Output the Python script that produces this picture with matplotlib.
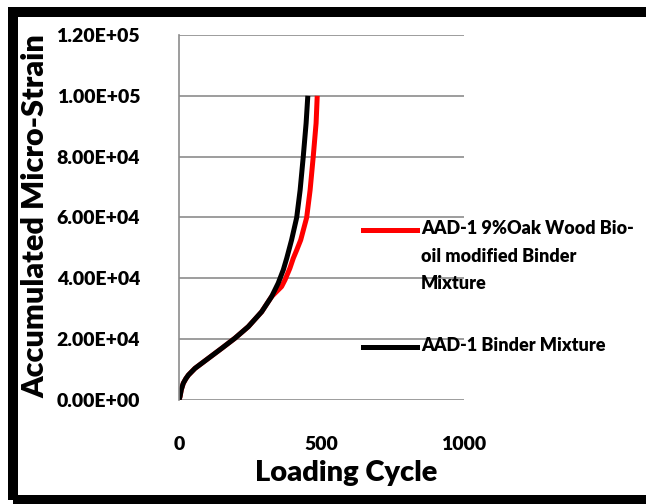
import matplotlib.pyplot as plt
from matplotlib.lines import Line2D
from matplotlib.patches import Rectangle

plt.rcParams['font.family'] = ['Lato', 'DejaVu Sans']
plt.rcParams['font.weight'] = 'heavy'

# accumulated strain vs loading cycle
cycles_bio = [0, 3.5, 8, 15, 24, 33, 56, 103, 150, 196, 243, 290, 325, 360, 372, 389, 401,
              413, 427, 448, 460, 471, 481, 485]
strain_bio = [0, 1.1e3, 3.4e3, 5.5e3, 7.0e3, 8.2e3, 10.4e3, 13.7e3, 17e3, 20.3e3, 24.1e3,
              29e3, 34e3, 37.3e3, 39.5e3, 43.3e3, 46.6e3, 49.3e3, 52.6e3, 60e3, 69e3, 80e3,
              91e3, 1.0e5]
cycles_base = [0, 3.5, 8, 15, 24, 33, 56, 103, 150, 196, 243, 290, 325, 348, 366, 378, 395,
               413, 425, 436, 446, 452]
strain_base = [0, 1.1e3, 3.4e3, 5.5e3, 7.0e3, 8.2e3, 10.4e3, 13.7e3, 17e3, 20.3e3, 24.1e3,
               29e3, 34e3, 38.4e3, 42.8e3, 46.6e3, 52.6e3, 60e3, 69e3, 80e3, 91e3, 1.0e5]

label_bio = "AAD-1 9%Oak Wood Bio-\noil modified Binder\nMixture"
label_base = "AAD-1 Binder Mixture"

y_ticks = [0, 2e4, 4e4, 6e4, 8e4, 1e5, 1.2e5]
y_tick_labels = ["0.00E+00", "2.00E+04", "4.00E+04", "6.00E+04",
                 "8.00E+04", "1.00E+05", "1.20E+05"]
x_ticks = [0, 500, 1000]

fig = plt.figure(figsize=(6.46, 5.04), dpi=100)
ax = fig.add_axes([179 / 646, 104 / 504, 285 / 646, 365 / 504])

ax.plot(cycles_bio, strain_bio, color='#ff0000', lw=3.6, solid_capstyle='butt',
        solid_joinstyle='round')
ax.plot(cycles_base, strain_base, color='black', lw=3.6, solid_capstyle='butt',
        solid_joinstyle='round')

ax.set_xlim(0, 1000)
ax.set_ylim(0, 1.2e5)
ax.set_yticks(y_ticks)
ax.set_yticklabels(y_tick_labels)
ax.set_xticks(x_ticks)
ax.grid(axis='y', color='#8c8c8c', lw=1.2)
ax.set_axisbelow(True)
for side in ['top', 'right', 'bottom']:
    ax.spines[side].set_visible(False)
ax.spines['left'].set_color('#8c8c8c')
ax.spines['left'].set_linewidth(1.2)
ax.tick_params(axis='both', length=0, labelsize=14)
ax.tick_params(axis='y', pad=28)
ax.tick_params(axis='x', pad=26)

ax.set_ylabel("Accumulated Micro-Strain", fontsize=22, fontweight='heavy')
ax.yaxis.set_label_coords(-0.455, 0.505)
ax.set_xlabel("Loading Cycle", fontsize=21, fontweight='heavy')
ax.xaxis.set_label_coords(0.585, -0.165)

# legend drawn by hand so the handle sits on the first text line
for y_px, color, text in [(230, '#ff0000', label_bio), (347, 'black', label_base)]:
    yf = 1 - y_px / 504
    fig.add_artist(Line2D([363 / 646, 417 / 646], [yf, yf], color=color, lw=3.6,
                          transform=fig.transFigure))
    fig.text(421 / 646, yf + 0.019, text, fontsize=13, fontweight='heavy',
             va='top', ha='left', linespacing=1.72)

# thick black frame around the chart
fig.add_artist(Rectangle((13.5 / 646, 4 / 504), 640 / 646, 488.5 / 504,
                         transform=fig.transFigure, fill=False, lw=7.2,
                         edgecolor='black'))

fig.savefig("out.png", dpi=100)
